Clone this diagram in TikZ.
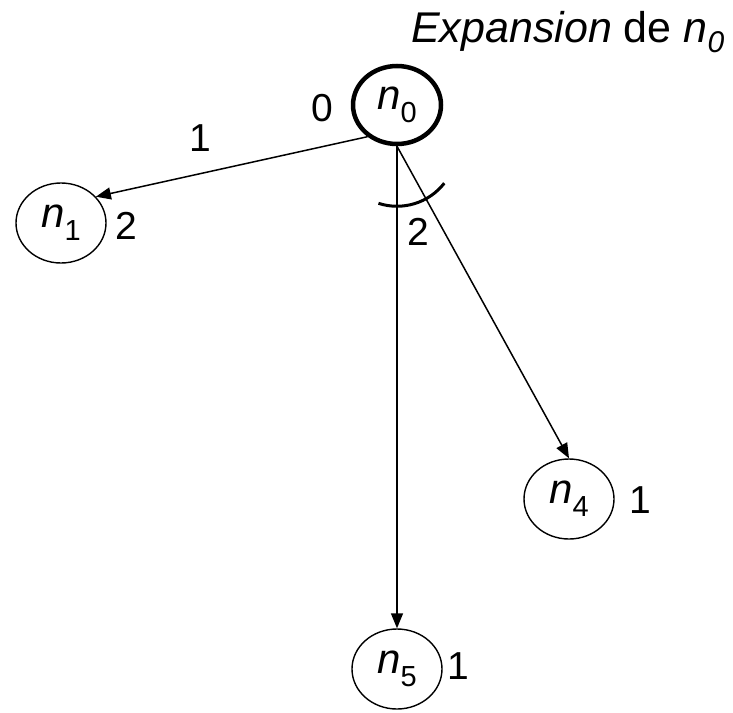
\documentclass[tikz,border=0pt]{standalone}
\usepackage{fontspec}
\setmainfont{Liberation Sans}
\usetikzlibrary{shapes.geometric,arrows.meta}
\newcommand{\nodelab}[2]{{\fontsize{42}{44}\selectfont\itshape #1}\raisebox{-13pt}{\fontsize{29}{30}\selectfont #2}}
\tikzset{
  state/.style={ellipse,draw,line width=1.4pt,minimum width=90pt,minimum height=80pt,inner sep=0pt},
  startstate/.style={state,line width=4.5pt,minimum width=88pt,minimum height=78pt},
  lab/.style={inner sep=0pt,font=\fontsize{39}{40}\selectfont},
  edge/.style={line width=1.5pt,-{Triangle[length=15pt,width=12pt]}},
  arcline/.style={line width=3pt}
}
\begin{document}
\begin{tikzpicture}[x=1pt,y=-1pt]
\useasboundingbox (0,0) rectangle (733,712);
\node[inner sep=0pt,anchor=base west] (title) at (411,42)
  {\fontsize{43}{45}\selectfont\textit{Expansion} de \textit{n}\raisebox{-10pt}{\fontsize{30}{31}\selectfont\textit{0}}};
\node[startstate] (n0) at (397,105) {\nodelab{n}{0}};
\node[state] (n1) at (61,223) {\nodelab{n}{1}};
\node[state] (n4) at (569,499) {\nodelab{n}{4}};
\node[state] (n5) at (397,669) {\nodelab{n}{5}};
\node[lab] (l0) at (322,108) {0};
\node[lab] (l1) at (200,138) {1};
\node[lab] (l2) at (126,226) {2};
\node[lab] (la) at (418,232) {2};
\node[lab] (l4) at (640,500) {1};
\node[lab] (l5) at (458,666) {1};
\draw[edge] (n0.227) -- (n1.37);
\draw[edge] (n0.south) -- (n5.north);
\draw[edge] (n0.south) -- (n4.north);
\coordinate (arcstart) at ([shift={(-108:60pt)}]n0.south);
\draw[arcline] (arcstart) arc[start angle=-108, end angle=-38, radius=60pt];
\end{tikzpicture}
\end{document}
